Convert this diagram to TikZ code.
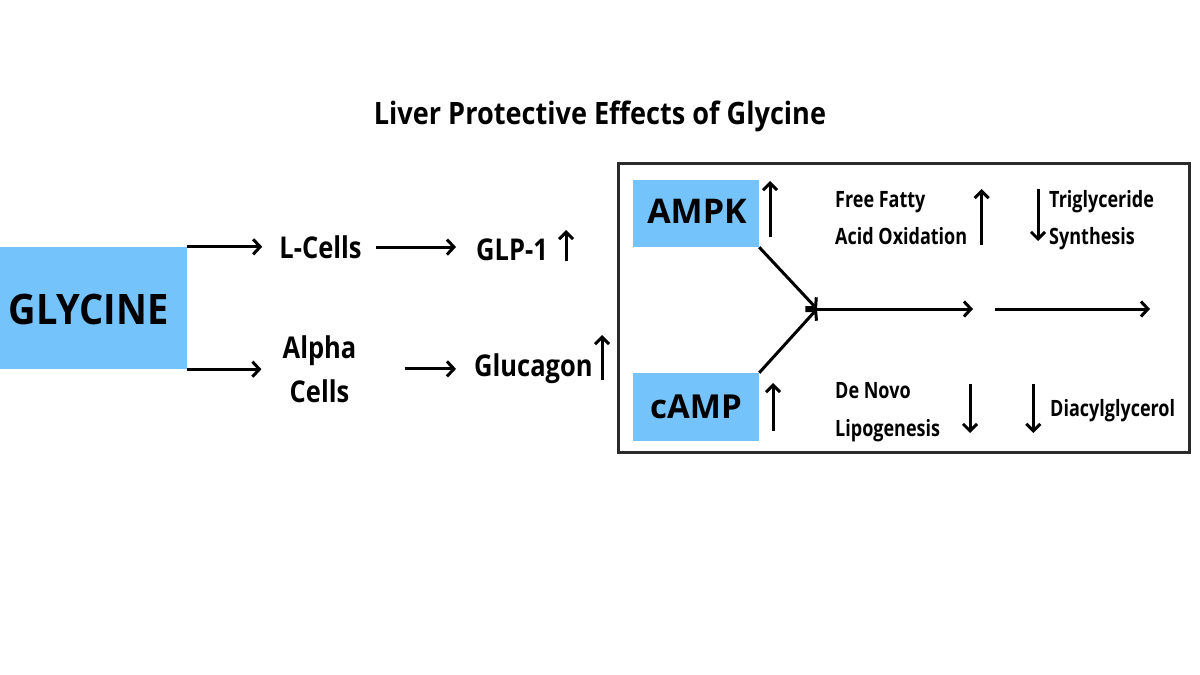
\documentclass[tikz,border=0pt]{standalone}
\usepackage{fontspec}
\setmainfont{Open Sans}
\newfontfamily\ftitle{Open Sans}[FakeStretch=0.88]
\newfontfamily\fgly{Open Sans}[FakeStretch=0.905]
\newfontfamily\fmed{Open Sans}[FakeStretch=0.85]
\newfontfamily\fsmall{Open Sans}[FakeStretch=0.8]
\newfontfamily\fkbox{Open Sans}
\usetikzlibrary{arrows.meta}
\definecolor{boxblue}{HTML}{74C3FB}
\definecolor{frameline}{HTML}{2B2B2B}
\tikzset{
  arr/.style={line width=3pt, -{Straight Barb[length=7pt,width=15pt,line width=3pt]}},
  mini/.style={line width=3pt, -{Straight Barb[length=7pt,width=14pt,line width=3pt]}},
  bluebox/.style={fill=boxblue, inner sep=0pt},
  lbl/.style={inner sep=0pt, align=center},
}
\newcommand{\fsz}[3]{#1\fontsize{#2}{#3}\selectfont\bfseries}
\begin{document}
\begin{tikzpicture}[x=1pt,y=-1pt]
\useasboundingbox[fill=white] (0,0) rectangle (1200,675);
% title
\node[lbl, anchor=base, font=\fsz{\ftitle}{30.8}{36}] (title) at (600,124.3) {Liver Protective Effects of Glycine};
% glycine
\node[bluebox, minimum width=187pt, minimum height=122pt] (gly) at (93.5,308) {};
\node[lbl, anchor=base, font=\fsz{\fgly}{42}{46}] (glytext) at (88.5,324.3) {GLYCINE};
\node[lbl, anchor=base, font=\fsz{\fmed}{30}{44}] (lcells) at (320.5,258.3) {L-Cells};
\node[lbl, anchor=base, font=\fsz{\fmed}{30}{44}] (alpha) at (319.5,402.3) {Alpha\\Cells};
\node[lbl, anchor=base west, font=\fsz{\fmed}{30}{44}] (glp) at (476,260) {GLP-1};
\node[lbl, anchor=base west, font=\fsz{\fmed}{30}{44}] (gluc) at (474,376.7) {Glucagon};
\draw[arr, shorten >=17pt] (gly.north east) -- (lcells.west |- gly.north east);
\draw[arr, shorten >=21pt] (gly.south east) -- (alpha.west |- gly.south east);
\draw[arr, shorten <=14pt, shorten >=20pt] (lcells.east) -- (glp.west |- lcells.east);
\draw[arr, shorten <=48pt, shorten >=18pt] (alpha.east |- gluc.west) -- (gluc.west);
\draw[mini] (566,261) -- (566,230);
\draw[mini] (602,380) -- (602,335);
% frame
\draw[frameline, line width=3pt] (618,163) rectangle (1189,452);
\node[bluebox, minimum width=126pt, minimum height=67pt] (ampk) at (696,213.5) {};
\node[bluebox, minimum width=126pt, minimum height=68pt] (camp) at (696,407) {};
\node[lbl, anchor=base, font=\fsz{\fkbox}{34}{40}] (ampktext) at (697,223.3) {AMPK};
\node[lbl, anchor=base, font=\fsz{\fkbox}{33}{40}] (camptext) at (696,418.3) {cAMP};
\coordinate (j) at (817,309);
\coordinate (m1) at (973,309);
\coordinate (m2) at (995,309);
\coordinate (m3) at (1150,309);
\draw[arr] (ampk.south east) -- (j);
\draw[arr] (camp.north east) -- (j);
\draw[arr] (j) -- (m1);
\draw[arr] (m2) -- (m3);
\draw[mini] (770,237) -- (770,181);
\draw[mini] (773,431) -- (773,383);
\node[lbl, font=\fsz{\fsmall}{22.5}{36.7}, align=left, anchor=base west] (ffa) at (835,244) {Free Fatty\\Acid Oxidation};
\node[lbl, font=\fsz{\fsmall}{22.5}{36.7}, align=left, anchor=base west] (tg) at (1049,244) {Triglyceride\\Synthesis};
\node[lbl, font=\fsz{\fsmall}{22.5}{38.4}, align=left, anchor=base west] (dnl) at (835,436.7) {De Novo\\Lipogenesis};
\node[lbl, font=\fsz{\fsmall}{22.5}{36.7}, align=left, anchor=base west] (dag) at (1050,416.7) {Diacylglycerol};
\draw[mini] (981.7,245) -- (981.7,189);
\draw[mini] (1038,189) -- (1038,241);
\draw[mini] (970,384) -- (970,433);
\draw[mini] (1033.3,384) -- (1033.3,433);
\end{tikzpicture}
\end{document}
